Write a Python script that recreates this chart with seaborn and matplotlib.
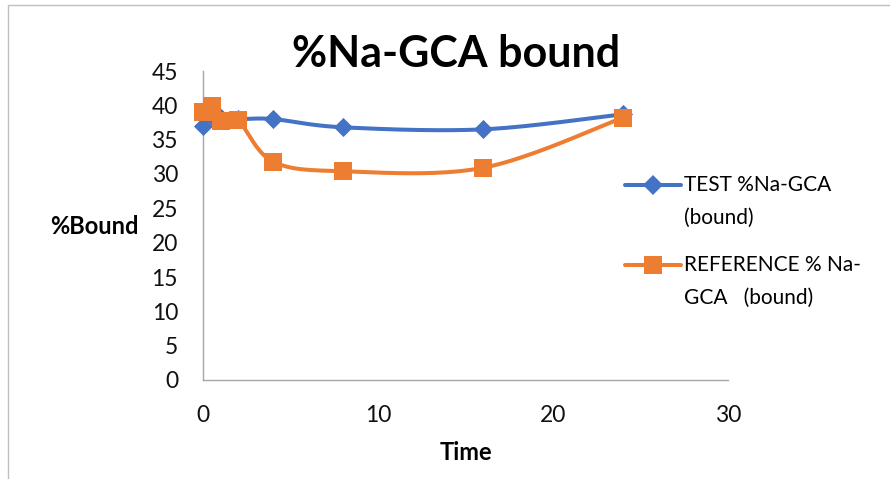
import numpy as np
import pandas as pd
import matplotlib
matplotlib.use("Agg")
import matplotlib.pyplot as plt
import seaborn as sns
from matplotlib.lines import Line2D
from matplotlib.patches import Rectangle

# ---- data ----
time = [0, 0.5, 1, 2, 4, 8, 16, 24]
test_bound = [37.0, 38.5, 38.2, 38.0, 38.0, 36.8, 36.5, 38.7]
reference_bound = [39.0, 39.9, 37.7, 37.8, 31.8, 30.4, 30.9, 38.2]
series_labels = ["TEST %Na-GCA\n(bound)", "REFERENCE % Na-\nGCA   (bound)"]
x_ticks = [0, 10, 20, 30]
y_ticks = [0, 5, 10, 15, 20, 25, 30, 35, 40, 45]
title_text = "%Na-GCA bound"
x_label = "Time"
y_label = "%Bound"

BLUE = "#4472C4"
ORANGE = "#ED7D31"
AXIS_GRAY = "#A6A6A6"

sns.set_theme(style="white")
plt.rcParams["font.family"] = ["Lato", "DejaVu Sans"]


def smooth_curve(x, y, n=40):
    """Excel-like smoothed line (cubic Bezier with Catmull-Rom control points)."""
    P = np.column_stack([np.asarray(x, float), np.asarray(y, float)])
    out = [P[0]]
    for i in range(len(P) - 1):
        p0 = P[i - 1] if i > 0 else P[i]
        p1, p2 = P[i], P[i + 1]
        p3 = P[i + 2] if i + 2 < len(P) else P[i + 1]
        c1 = p1 + (p2 - p0) / 6.0
        c2 = p2 - (p3 - p1) / 6.0
        t = np.linspace(0, 1, n)[1:, None]
        seg = (1 - t) ** 3 * p1 + 3 * (1 - t) ** 2 * t * c1 + 3 * (1 - t) * t ** 2 * c2 + t ** 3 * p2
        out.extend(seg)
    out = np.array(out)
    return pd.DataFrame({"x": out[:, 0], "y": out[:, 1]})


W, H = 890, 479
fig = plt.figure(figsize=(W / 100, H / 100), dpi=100)
ax = fig.add_axes([203 / W, 1 - 380 / H, (728 - 203) / W, (380 - 71) / H])

series = [(test_bound, BLUE, "D", 95), (reference_bound, ORANGE, "s", 150)]
for vals, col, mk, sz in series:
    curve = smooth_curve(time, vals)
    sns.lineplot(data=curve, x="x", y="y", sort=False, estimator=None, color=col,
                 linewidth=2.9, ax=ax, legend=False, zorder=3)
    pts = pd.DataFrame({"x": time, "y": vals})
    sns.scatterplot(data=pts, x="x", y="y", marker=mk, s=sz, color=col,
                    linewidth=0, ax=ax, legend=False, zorder=4, clip_on=False)
for ln in ax.lines:
    ln.set_clip_on(False)

ax.set_xlim(0, 30)
ax.set_ylim(0, 45)
ax.set_xticks(x_ticks)
ax.set_yticks(y_ticks)
ax.set_xlabel("")
ax.set_ylabel("")
for s in ["top", "right"]:
    ax.spines[s].set_visible(False)
for s in ["left", "bottom"]:
    ax.spines[s].set_color(AXIS_GRAY)
    ax.spines[s].set_linewidth(1.0)
ax.tick_params(axis="both", direction="out", length=6, width=1.0, color=AXIS_GRAY,
               labelsize=16.5, labelcolor="#111111")
ax.tick_params(axis="x", pad=12)
ax.tick_params(axis="y", pad=12)

# titles / labels
fig.text(456 / W, 1 - 54 / H, title_text, ha="center", va="center",
         fontsize=31, fontweight="bold", color="black")
fig.text(94 / W, 1 - 227 / H, y_label, ha="center", va="center",
         fontsize=17, fontweight="bold", color="black")
fig.text(466 / W, 1 - 453 / H, x_label, ha="center", va="center",
         fontsize=17, fontweight="bold", color="black")

# legend (drawn to match the reference layout: handle aligned with first text line)
leg_rows = [185, 265]
for (vals, col, mk, sz), lab, yy in zip(series, series_labels, leg_rows):
    yf = 1 - yy / H
    fig.add_artist(Line2D([625 / W, 681 / W], [yf, yf], transform=fig.transFigure,
                          color=col, linewidth=2.9))
    fig.add_artist(Line2D([653 / W], [yf], transform=fig.transFigure, color=col,
                          marker=mk, markersize=np.sqrt(sz), markeredgewidth=0, linestyle="none"))
    l1, l2 = lab.split("\n")
    fig.text(684 / W, yf, l1, ha="left", va="center", fontsize=15, color="black")
    fig.text(684 / W, 1 - (yy + 33) / H, l2, ha="left", va="center", fontsize=15, color="black")

# chart border
fig.add_artist(Rectangle((8 / W, -0.2), 1.5, 1 - 5 / H + 0.2, transform=fig.transFigure,
                         fill=False, edgecolor="#BFBFBF", linewidth=1.0))

fig.savefig("out.png", dpi=100)
